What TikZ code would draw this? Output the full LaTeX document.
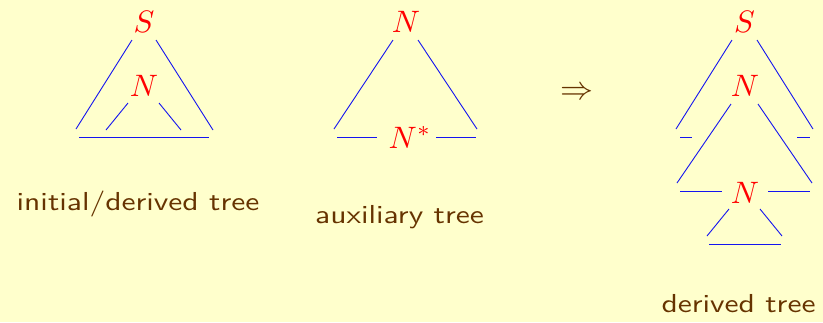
\documentclass[tikz,border=0pt]{standalone}
\usepackage{graphicx}
\definecolor{bgyellow}{RGB}{255,255,204}
\definecolor{txtbrown}{RGB}{102,51,0}
\definecolor{lineblue}{RGB}{20,20,240}
\definecolor{labred}{RGB}{255,0,0}
\tikzset{
  edge/.style={draw=lineblue, line width=0.9pt},
  sym/.style={text=labred, scale=3.1, anchor=base, inner sep=0pt},
  caption/.style={text=txtbrown, font=\sffamily, xscale=3.15, yscale=2.6, anchor=base, inner sep=0pt},
  arrowsym/.style={text=txtbrown, scale=3.3, inner sep=0pt}
}
\begin{document}
\begin{tikzpicture}[x=1pt,y=-1pt]
\fill[bgyellow] (0,0) rectangle (823,322);
\useasboundingbox (0,0) rectangle (823,322);

% ---------- tree 1 ----------
\node[sym] (s1) at (144,32.5) {$S$};
\node[sym] (n1) at (144,96) {$N$};
\coordinate (t1a) at (132,40);  \coordinate (t1b) at (76,129);
\coordinate (t1c) at (156,40);  \coordinate (t1d) at (213,130);
\coordinate (t1e) at (128,103); \coordinate (t1f) at (106,130);
\coordinate (t1g) at (159,103); \coordinate (t1h) at (181,130);
\coordinate (t1i) at (79,137);  \coordinate (t1j) at (209,137);
\draw[edge] (t1a) -- (t1b);
\draw[edge] (t1c) -- (t1d);
\draw[edge] (t1e) -- (t1f);
\draw[edge] (t1g) -- (t1h);
\draw[edge] (t1i) -- (t1j);
\node[caption] (c1) at (138,210) {initial/derived tree};

% ---------- tree 2 ----------
\node[sym] (n2) at (406,32) {$N$};
\node[sym] (n2s) at (410,148) {$N^*$};
\coordinate (t2a) at (393,40);  \coordinate (t2b) at (334,129);
\coordinate (t2c) at (418,40);  \coordinate (t2d) at (477,129);
\coordinate (t2e) at (337,137); \coordinate (t2f) at (377,137);
\coordinate (t2g) at (436,137); \coordinate (t2h) at (476,137);
\draw[edge] (t2a) -- (t2b);
\draw[edge] (t2c) -- (t2d);
\draw[edge] (t2e) -- (t2f);
\draw[edge] (t2g) -- (t2h);
\node[caption] (c2) at (399.5,223) {auxiliary tree};

% ---------- arrow ----------
\node[arrowsym] (arr) at (577,93) {$\Rightarrow$};

% ---------- tree 3 ----------
\node[sym] (s3) at (744.5,32.5) {$S$};
\node[sym] (n3) at (745,96) {$N$};
\node[sym] (n3b) at (745,203) {$N$};
\coordinate (t3a) at (732,40);  \coordinate (t3b) at (676,129);
\coordinate (t3c) at (757,40);  \coordinate (t3d) at (813,129);
\coordinate (t3e) at (680,137); \coordinate (t3f) at (692,137);
\coordinate (t3g) at (797,137); \coordinate (t3h) at (810,137);
\coordinate (t3i) at (731,104); \coordinate (t3j) at (677,183);
\coordinate (t3k) at (758,104); \coordinate (t3l) at (812,183);
\coordinate (t3m) at (680,191); \coordinate (t3n) at (722,191);
\coordinate (t3o) at (768,191); \coordinate (t3p) at (810,191);
\coordinate (t3q) at (729,209); \coordinate (t3r) at (707,236);
\coordinate (t3s) at (760,209); \coordinate (t3t) at (782,236);
\coordinate (t3u) at (709,244); \coordinate (t3v) at (781,244);
\draw[edge] (t3a) -- (t3b);
\draw[edge] (t3c) -- (t3d);
\draw[edge] (t3e) -- (t3f);
\draw[edge] (t3g) -- (t3h);
\draw[edge] (t3i) -- (t3j);
\draw[edge] (t3k) -- (t3l);
\draw[edge] (t3m) -- (t3n);
\draw[edge] (t3o) -- (t3p);
\draw[edge] (t3q) -- (t3r);
\draw[edge] (t3s) -- (t3t);
\draw[edge] (t3u) -- (t3v);
\node[caption] (c3) at (738.5,312.5) {derived tree};
\end{tikzpicture}
\end{document}
